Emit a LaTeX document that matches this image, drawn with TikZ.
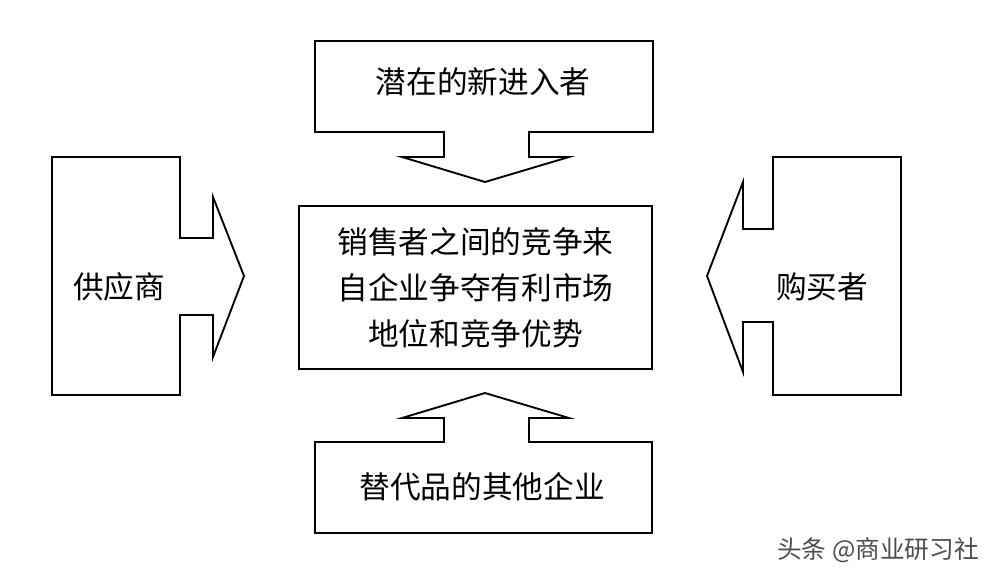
\documentclass[tikz,border=0pt]{standalone}
\usepackage{fontspec}
\setmainfont{Noto Sans CJK SC}
\usepackage{tikz}

\begin{document}
\begin{tikzpicture}
 [x=0.75pt, y=-0.75pt,
  force line/.style={draw, line width=1.4pt, line join=miter},
  force text/.style={font=\fontsize{23}{34.5}\selectfont, inner sep=0pt},
  rival box/.style={draw, line width=1.4pt, minimum width=264.75pt, minimum height=122.25pt,
    align=center, font=\fontsize{23}{34.5}\selectfont}]

\useasboundingbox (0,0) rectangle (1000,578);

% centre box
\node[rival box] (rival) at (475.5,287.5)
  {销售者之间的竞争来\\自企业争夺有利市场\\地位和竞争优势};

% top: potential entrants
\path[force line] (315,41) -- (653,41) -- (653,132) -- (529,132) -- (529,157) -- (569,157)
  -- (485,182) -- (402,157) -- (444,157) -- (444,132) -- (315,132) -- cycle;
\node[force text] (entrant) at (483,82) {潜在的新进入者};

% left: suppliers
\path[force line] (52,157) -- (180,157) -- (180,238) -- (213,238) -- (213,197)
  -- (244,276) -- (213,357) -- (213,315) -- (180,315) -- (180,395) -- (52,395) -- cycle;
\node[force text] (supplier) at (119,287) {供应商};

% right: buyers
\path[force line] (901,157) -- (773,157) -- (773,229) -- (743,229) -- (743,182)
  -- (707,276) -- (743,372) -- (743,322) -- (773,322) -- (773,395) -- (901,395) -- cycle;
\node[force text] (buyer) at (822,287) {购买者};

% bottom: substitutes
\path[force line] (315,533) -- (652,533) -- (652,442) -- (529,442) -- (529,418) -- (569,418)
  -- (485,393) -- (402,418) -- (444,418) -- (444,442) -- (315,442) -- cycle;
\node[force text] (substitute) at (482,487) {替代品的其他企业};

\node[font=\fontsize{18.5}{22}\selectfont, text=black!70, inner sep=0pt] (mark) at (878,550) {头条 @商业研习社};

\end{tikzpicture}
\end{document}
